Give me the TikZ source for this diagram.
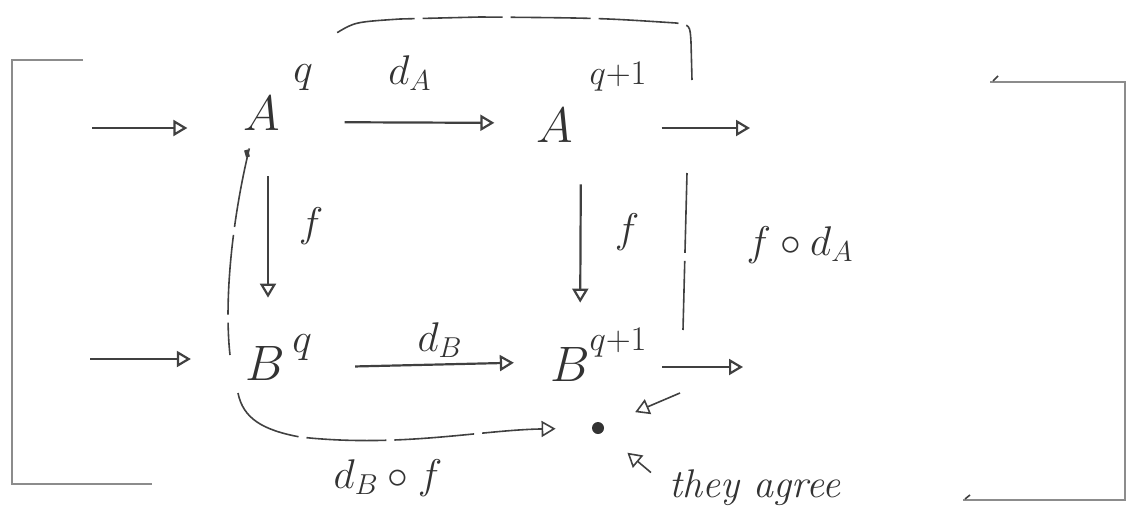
\documentclass[tikz,border=0pt]{standalone}
\usetikzlibrary{arrows.meta,positioning}

\tikzset{
  pencil/.style={draw=black!75, line width=1.1pt},
  obj/.style={font=\fontsize{32}{32}\selectfont, text=black!80, inner sep=2pt},
  sup/.style={font=\fontsize{21}{21}\selectfont, text=black!80, inner sep=0pt},
  lbl/.style={font=\fontsize{22}{22}\selectfont, text=black!80, inner sep=0pt},
  tip/.style={-{Triangle[open,length=7pt,width=8pt]}},
  map/.style={pencil, tip},
  comp/.style={pencil, line width=0.8pt, dash pattern=on 40pt off 4pt},
  brack/.style={draw=black!45, line width=1pt},
}

\begin{document}
\begin{tikzpicture}[x=0.5pt, y=-0.5pt]
  \useasboundingbox (0,0) rectangle (1126,525);

  % --- brackets ---
  \draw[brack] (83,60) -- (12,60) -- (12,484) -- (152,484);
  \draw[brack] (990,82) -- (1125,82) -- (1125,500) -- (963,500);
  \draw[pencil, line width=0.8pt] (993,81) -- (998,76);
  \draw[pencil, line width=0.8pt] (965,499) -- (970,495);

  % --- objects ---
  \node[obj] (Aq) at (262,113) {$A$};
  \node[sup] (Aqs) at (303,78) {$q$};
  \node[obj] (Aq1) at (555,125) {$A$};
  \node[sup, font=\fontsize{19}{19}\selectfont] (Aq1s) at (618,77) {$q{+}1$};
  \node[obj] (Bq) at (265,363) {$B$};
  \node[sup] (Bqs) at (302,348) {$q$};
  \node[obj] (Bq1) at (570,364) {$B$};
  \node[sup, font=\fontsize{19}{19}\selectfont] (Bq1s) at (618,343) {$q{+}1$};

  % free ends of the complex
  \coordinate (inA) at (92,128);
  \coordinate (inB) at (90,359);
  \coordinate (outA) at (750,128);
  \coordinate (outB) at (743,367);

  % --- the maps ---
  \draw[map, shorten >=26pt] (inA) -- (inA -| Aq.west);
  \draw[map, shorten >=25pt] (inB) -- (inB -| Bq.west);
  \draw[map, shorten <=30pt, shorten >=19pt] ([yshift=-4.5pt]Aq.east) -- ([yshift=1pt]Aq1.west);
  \draw[map, shorten <=33pt, shorten >=16pt] ([yshift=-2.5pt]Bq.east) -- ([yshift=1pt]Bq1.west);
  \draw[map, shorten <=21pt, shorten >=22pt] ([xshift=3pt]Aq.south) -- ([xshift=1.5pt]Bq.north);
  \draw[map, shorten <=19pt, shorten >=20pt] ([xshift=13pt]Aq1.south) -- ([xshift=5pt]Bq1.north);
  \draw[map, shorten <=42pt] (outA -| Aq1.east) -- (outA);
  \draw[map, shorten <=34pt] (outB -| Bq1.east) -- (outB);

  \node[lbl] (dA) at (410,73) {$d_A$};
  \node[lbl] (dB) at (440,340) {$d_B$};
  \node[lbl] (fL) at (311,226) {$f$};
  \node[lbl] (fR) at (627,232) {$f$};

  % --- the two composites ---
  \node[circle, fill=black!80, inner sep=0pt, minimum size=6pt] (meet) at (598,428) {};

  \draw[pencil, line width=2pt] (246,150) -- (248,157);
  \draw[comp] ([xshift=5pt,yshift=-7pt]Aq.south west)
      .. controls (232,220) and (224,300) .. (230,355);
  \draw[comp, tip, shorten >=18pt] (238,393)
      .. controls (243,418) and (262,430) .. (300,437)
      .. controls (400,448) and (480,430) .. (meet);

  \draw[comp] ([xshift=12pt,yshift=16pt]Aqs.north east)
      .. controls (355,22) .. (400,19) -- (480,17)
      .. controls (600,18) .. (676,23) .. controls (690,25) .. (691,42) -- (692,80);
  \draw[comp] (687,173) -- (683,330);
  \draw[comp, tip, shorten >=17pt] (680,393) -- (meet);

  \node[lbl] (fdA) at (800,245) {$f\circ d_A$};
  \node[lbl] (dBf) at (388,478) {$d_B\circ f$};

  % --- comment ---
  \node[lbl, font=\fontsize{20}{20}\selectfont\itshape] (agree) at (755,488) {they agree};
  \draw[map, line width=0.8pt, shorten <=12pt, shorten >=16pt] (agree.west) -- (meet);

\end{tikzpicture}
\end{document}
